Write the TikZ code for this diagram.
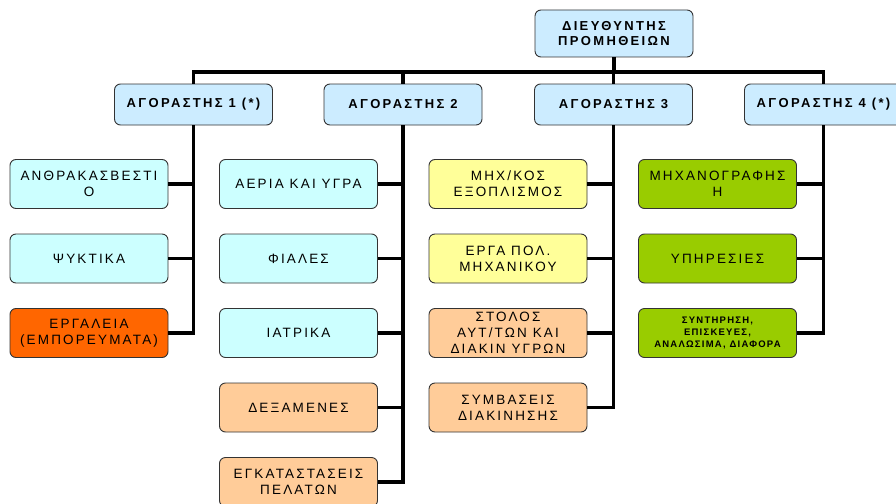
\documentclass[tikz,border=0pt]{standalone}
\usepackage{fontspec}
\setmainfont{Liberation Sans}
\newfontfamily\spaced[LetterSpace=16]{Liberation Sans}
\newfontfamily\spacedb[LetterSpace=18]{Liberation Sans}
\newfontfamily\spacedc[LetterSpace=13]{Liberation Sans}
\definecolor{hdblue}{HTML}{CCECFF}
\definecolor{lcyan}{HTML}{CCFFFF}
\definecolor{orng}{HTML}{FF6600}
\definecolor{peach}{HTML}{FFCC99}
\definecolor{lyel}{HTML}{FFFF99}
\definecolor{lgrn}{HTML}{99CC00}
\tikzset{
  box/.style={draw=black!80, line width=0.9pt, rounded corners=6pt,
    minimum width=158pt, inner sep=0pt, align=center, text=black},
  headbox/.style={box, fill=hdblue, minimum height=41pt,
    font=\spacedb\bfseries\fontsize{13}{15}\selectfont},
  topbox/.style={headbox, minimum height=47pt},
  child/.style={box, minimum height=49pt,
    font=\spaced\fontsize{13.5}{16}\selectfont},
  smallchild/.style={box, minimum height=49pt,
    font=\spacedc\bfseries\fontsize{9.5}{12}\selectfont},
  conn/.style={line width=3.2pt, black},
}
\begin{document}
\begin{tikzpicture}[x=1pt,y=-1pt]
\useasboundingbox (0,0) rectangle (896,503);
\clip (0,0) rectangle (896,503);
\fill[white] (0,0) rectangle (896,503);

\coordinate (hb) at (614,72);

\node[topbox] (top) at (614,33.5) {ΔΙΕΥΘΥΝΤΗΣ\\ΠΡΟΜΗΘΕΙΩΝ};

\node[headbox] (b1) at (193.5,104.5) {ΑΓΟΡΑΣΤΗΣ 1 (*)};
\node[headbox] (b2) at (403,104.5) {ΑΓΟΡΑΣΤΗΣ 2};
\node[headbox] (b3) at (613.5,104.5) {ΑΓΟΡΑΣΤΗΣ 3};
\node[headbox] (b4) at (823.5,104.5) {ΑΓΟΡΑΣΤΗΣ 4 (*)};

% column 1
\node[child, fill=lcyan] (c11) at (89,184) {ΑΝΘΡΑΚΑΣΒΕΣΤΙ\\Ο};
\node[child, fill=lcyan] (c12) at (89,258.5) {ΨΥΚΤΙΚΑ};
\node[child, fill=orng] (c13) at (89,333) {ΕΡΓΑΛΕΙΑ\\(ΕΜΠΟΡΕΥΜΑΤΑ)};

% column 2
\node[child, fill=lcyan] (c21) at (298.5,184) {ΑΕΡΙΑ ΚΑΙ ΥΓΡΑ};
\node[child, fill=lcyan] (c22) at (298.5,258.5) {ΦΙΑΛΕΣ};
\node[child, fill=lcyan] (c23) at (298.5,333) {ΙΑΤΡΙΚΑ};
\node[child, fill=peach] (c24) at (298.5,407.5) {ΔΕΞΑΜΕΝΕΣ};
\node[child, fill=peach] (c25) at (298.5,482) {ΕΓΚΑΤΑΣΤΑΣΕΙΣ\\ΠΕΛΑΤΩΝ};

% column 3
\node[child, fill=lyel] (c31) at (508,184) {ΜΗΧ/ΚΟΣ\\ΕΞΟΠΛΙΣΜΟΣ};
\node[child, fill=lyel] (c32) at (508,258.5) {ΕΡΓΑ ΠΟΛ.\\ΜΗΧΑΝΙΚΟΥ};
\node[child, fill=peach] (c33) at (508,333) {ΣΤΟΛΟΣ\\ΑΥΤ/ΤΩΝ ΚΑΙ\\ΔΙΑΚΙΝ ΥΓΡΩΝ};
\node[child, fill=peach] (c34) at (508,407.5) {ΣΥΜΒΑΣΕΙΣ\\ΔΙΑΚΙΝΗΣΗΣ};

% column 4
\node[child, fill=lgrn] (c41) at (717.5,184) {ΜΗΧΑΝΟΓΡΑΦΗΣ\\Η};
\node[child, fill=lgrn] (c42) at (717.5,258.5) {ΥΠΗΡΕΣΙΕΣ};
\node[smallchild, fill=lgrn] (c43) at (717.5,333) {ΣΥΝΤΗΡΗΣΗ,\\ΕΠΙΣΚΕΥΕΣ,\\ΑΝΑΛΩΣΙΜΑ, ΔΙΑΦΟΡΑ};

% top-level connectors
\draw[conn] (top.south) -- (top.south |- hb);
\draw[conn] (b1.north) |- (hb) -| (b4.north);
\draw[conn] (b2.north) -- (b2.north |- hb);
\draw[conn] (b3.north) -- (b3.north |- hb);

% column connectors
\foreach \c in {c11,c12,c13} \draw[conn] (b1.south) |- (\c.east);
\foreach \c in {c21,c22,c23,c24,c25} \draw[conn] (b2.south) |- (\c.east);
\foreach \c in {c31,c32,c33,c34} \draw[conn] (b3.south) |- (\c.east);
\foreach \c in {c41,c42,c43} \draw[conn] (b4.south) |- (\c.east);
\end{tikzpicture}
\end{document}
